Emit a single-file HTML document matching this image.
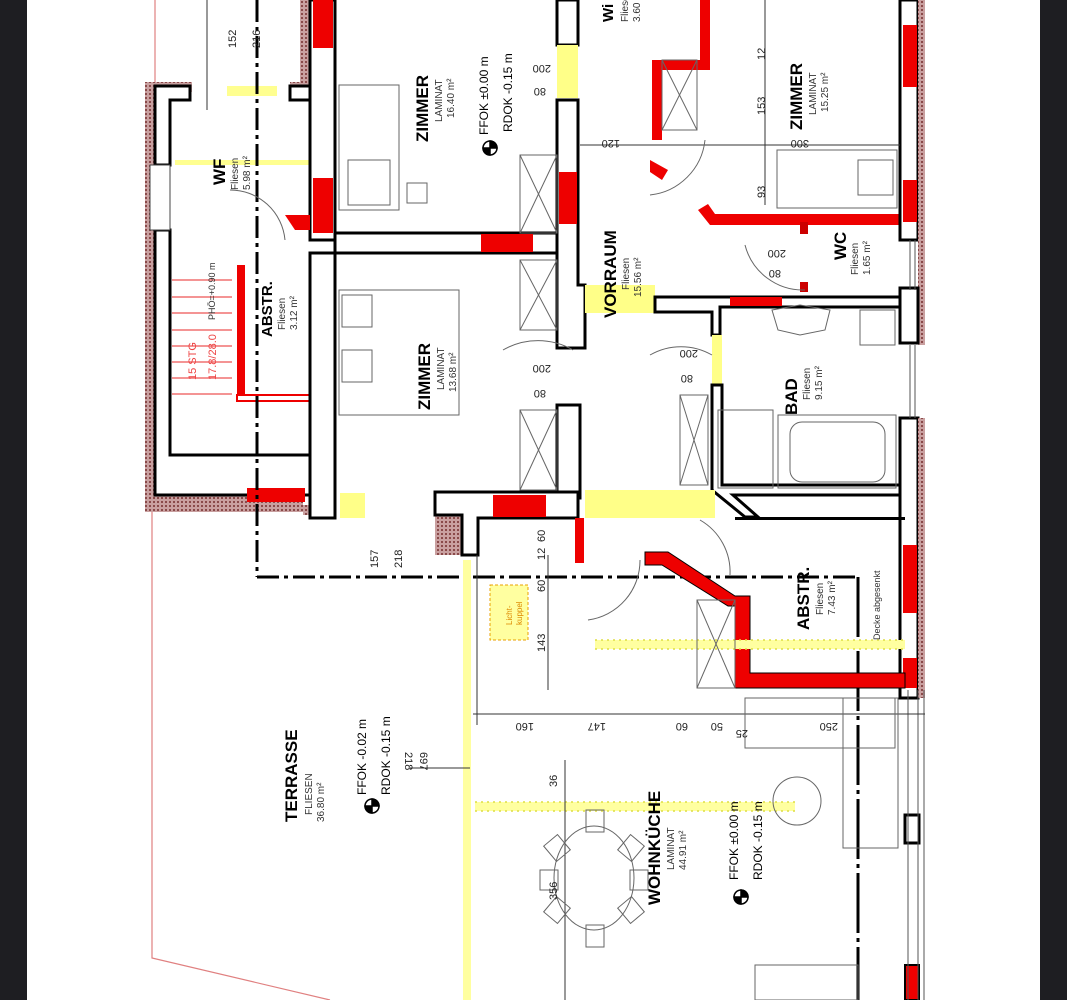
<!DOCTYPE html>
<html><head><meta charset="utf-8"><style>
html,body{margin:0;padding:0;background:#fff;}
svg{display:block;}
text{font-family:"Liberation Sans",sans-serif;}
</style></head><body>
<svg width="1067" height="1000" viewBox="0 0 1067 1000" xmlns="http://www.w3.org/2000/svg">
<defs>
<pattern id="h" width="4" height="4" patternUnits="userSpaceOnUse"><rect width="4" height="4" fill="#c9a0a0"/><rect x="1" y="1" width="2" height="2" fill="#8a4a4a"/></pattern>
</defs>
<rect x="0" y="0" width="1067" height="1000" fill="#fff"/>
<rect x="0" y="0" width="27" height="1000" fill="#1e1e22"/>
<rect x="1040" y="0" width="27" height="1000" fill="#1e1e22"/>

<polyline points="155,0 155,82" stroke="#e08080" stroke-width="1.2" fill="none"/>
<polyline points="152,512 152,958 330,1000" stroke="#e08080" stroke-width="1.2" fill="none"/>

<path d="M145,82 H192 V92 H160 V490 H303 V512 H145 Z" fill="url(#h)"/>
<path d="M290,82 H303 V92 H290 Z" fill="url(#h)"/>
<rect x="300" y="0" width="10" height="90" fill="url(#h)"/>
<rect x="303" y="505" width="32" height="10" fill="url(#h)"/>
<rect x="435" y="505" width="27" height="50" fill="url(#h)"/>
<path d="M155,86 H190 V100 H170 V165 H155 Z" fill="#fff" stroke="#000" stroke-width="3"/>
<path d="M155,230 H170 V455 H310 V495 H155 Z" fill="#fff" stroke="#000" stroke-width="3"/>
<rect x="150" y="165" width="20" height="65" fill="#fff" stroke="#444" stroke-width="1"/>
<path d="M290,86 H312 V100 H290 Z" fill="#fff" stroke="#000" stroke-width="3"/>
<rect x="247" y="488" width="58" height="14" fill="#e00"/>
<g stroke="#e55" stroke-width="1.3">
<line x1="172" y1="280" x2="232" y2="280"/><line x1="172" y1="297" x2="232" y2="297"/><line x1="172" y1="313" x2="232" y2="313"/><line x1="172" y1="330" x2="232" y2="330"/><line x1="172" y1="346" x2="232" y2="346"/><line x1="172" y1="362" x2="232" y2="362"/><line x1="172" y1="378" x2="232" y2="378"/><line x1="172" y1="394" x2="232" y2="394"/>
</g>
<rect x="237" y="265" width="8" height="130" fill="#e00"/>
<rect x="237" y="395" width="75" height="6" fill="none" stroke="#e00" stroke-width="2"/>
<text transform="translate(196,380) rotate(-90)" font-size="11" fill="#e44">15 STG</text>
<text transform="translate(216,380) rotate(-90)" font-size="11" fill="#e44">17.8/28.0</text>
<g fill="#ffff90">
<rect x="227" y="86" width="50" height="10"/><rect x="175" y="160" width="135" height="5"/>
</g>

<rect x="310" y="0" width="25" height="240" fill="#fff" stroke="#000" stroke-width="3"/>
<rect x="313" y="0" width="20" height="48" fill="#e00"/>
<rect x="313" y="178" width="20" height="55" fill="#e00"/>
<rect x="310" y="253" width="25" height="265" fill="#fff" stroke="#000" stroke-width="3"/>
<path d="M285,215 H310 V230 H295 Z" fill="#e00"/>

<line x1="257" y1="0" x2="257" y2="577" stroke="#000" stroke-width="3" stroke-dasharray="22,5,4,5"/>
<line x1="257" y1="577" x2="858" y2="577" stroke="#000" stroke-width="3" stroke-dasharray="22,5,4,5"/>
<line x1="858" y1="577" x2="858" y2="1000" stroke="#000" stroke-width="3" stroke-dasharray="60,5,4,5"/>

<rect x="335" y="233" width="223" height="20" fill="#fff" stroke="#000" stroke-width="3"/>
<rect x="481" y="234" width="52" height="18" fill="#e00"/>
<rect x="557" y="0" width="21" height="45" fill="#fff" stroke="#000" stroke-width="3"/>
<rect x="557" y="45" width="21" height="53" fill="#ff8"/>
<path d="M557,100 H578 V285 H585 V348 H557 Z" fill="#fff" stroke="#000" stroke-width="3"/>
<rect x="559" y="172" width="18" height="52" fill="#e00"/>
<rect x="585" y="285" width="70" height="28" fill="#ff8"/>
<path d="M655,297 H905 V307 H720 V335 H712 V312 H655 Z" fill="#fff" stroke="#000" stroke-width="3"/>
<rect x="730" y="297" width="52" height="9" fill="#e00"/>
<path d="M557,405 H580 V498 H557 Z" fill="#fff" stroke="#000" stroke-width="3"/>
<rect x="712" y="335" width="10" height="50" fill="#ff8"/>
<path d="M712,385 H722 V485 H905 V495 H733 L758,517 H745 L712,490 Z" fill="#fff" stroke="#000" stroke-width="3"/>
<rect x="585" y="490" width="130" height="28" fill="#ff8"/>
<path d="M435,492 H578 V518 H478 V555 H462 V515 H435 Z" fill="#fff" stroke="#000" stroke-width="3"/>
<rect x="493" y="495" width="53" height="22" fill="#e00"/>
<rect x="575" y="518" width="9" height="45" fill="#e00"/>
<rect x="340" y="493" width="25" height="25" fill="#ff8"/>

<path d="M652,60 H700 V0 H710 V70 H662 V140 H652 Z" fill="#e00"/>
<path d="M650,160 L668,170 L662,180 L650,172 Z" fill="#e00"/>
<path d="M698,210 L708,204 L715,214 H905 V225 H710 Z" fill="#e00"/>
<rect x="800" y="222" width="8" height="12" fill="#c00"/>
<rect x="800" y="282" width="8" height="10" fill="#c00"/>

<rect x="900" y="0" width="18" height="240" fill="#fff" stroke="#000" stroke-width="3"/>
<rect x="903" y="25" width="14" height="62" fill="#e00"/>
<rect x="903" y="180" width="14" height="42" fill="#e00"/>
<rect x="918" y="0" width="7" height="345" fill="url(#h)"/>
<rect x="900" y="288" width="18" height="55" fill="#fff" stroke="#000" stroke-width="3"/>
<rect x="900" y="418" width="18" height="280" fill="#fff" stroke="#000" stroke-width="3"/>
<rect x="918" y="418" width="7" height="280" fill="url(#h)"/>
<rect x="903" y="545" width="14" height="68" fill="#e00"/>
<rect x="903" y="658" width="14" height="30" fill="#e00"/>
<rect x="905" y="815" width="14" height="28" fill="#fff" stroke="#000" stroke-width="3"/>
<rect x="905" y="965" width="14" height="35" fill="#e00" stroke="#000" stroke-width="2"/>
<g stroke="#555" stroke-width="1"><line x1="910" y1="240" x2="910" y2="290"/><line x1="915" y1="240" x2="915" y2="290"/><line x1="910" y1="345" x2="910" y2="418"/><line x1="915" y1="345" x2="915" y2="418"/><line x1="908" y1="690" x2="908" y2="1000"/><line x1="918" y1="690" x2="918" y2="1000"/><line x1="924" y1="690" x2="924" y2="1000"/></g>

<path d="M645,552 H668 L735,596 H750 V673 H905 V688 H735 V606 H728 L662,565 H645 Z" fill="#e00" stroke="#000" stroke-width="1"/>
<rect x="735" y="517" width="170" height="3" fill="#000"/>

<g fill="#ffffa0"><rect x="463" y="560" width="8" height="440"/><rect x="475" y="802" width="320" height="9"/><rect x="595" y="640" width="310" height="9"/><rect x="490" y="585" width="38" height="55" stroke="#e8a000" stroke-dasharray="3,2"/></g>
<g stroke="#dd4" stroke-width="1.5" stroke-dasharray="2,4"><line x1="475" y1="802" x2="795" y2="802"/><line x1="475" y1="811" x2="795" y2="811"/><line x1="595" y1="640" x2="905" y2="640"/><line x1="595" y1="649" x2="905" y2="649"/></g>
<text transform="translate(512,625) rotate(-90)" font-size="8" fill="#d80">Licht-</text>
<text transform="translate(522,625) rotate(-90)" font-size="8" fill="#d80">kuppel</text>

<g stroke="#333" stroke-width="1" fill="none">
<line x1="473" y1="714" x2="925" y2="714"/>
<line x1="477" y1="555" x2="477" y2="725"/>
<line x1="548" y1="555" x2="548" y2="690"/>
<line x1="410" y1="768" x2="470" y2="768"/>
<line x1="565" y1="760" x2="565" y2="1000"/>
<line x1="580" y1="145" x2="900" y2="145"/>
<line x1="765" y1="0" x2="765" y2="205"/>
<line x1="207" y1="0" x2="207" y2="110"/>
</g>

<g stroke="#666" stroke-width="1" fill="none">
<rect x="339" y="85" width="60" height="125"/><rect x="348" y="160" width="42" height="45"/><rect x="407" y="183" width="20" height="20"/>
<rect x="339" y="290" width="120" height="125"/><rect x="342" y="295" width="30" height="32"/><rect x="342" y="350" width="30" height="32"/>
<rect x="520" y="155" width="37" height="78"/><line x1="520" y1="155" x2="557" y2="233"/><line x1="557" y1="155" x2="520" y2="233"/>
<rect x="520" y="260" width="37" height="70"/><line x1="520" y1="260" x2="557" y2="330"/><line x1="557" y1="260" x2="520" y2="330"/>
<rect x="520" y="410" width="37" height="80"/><line x1="520" y1="410" x2="557" y2="490"/><line x1="557" y1="410" x2="520" y2="490"/>
<rect x="662" y="60" width="35" height="70"/><line x1="662" y1="60" x2="697" y2="130"/><line x1="697" y1="60" x2="662" y2="130"/>
<rect x="680" y="395" width="28" height="90"/><line x1="680" y1="395" x2="708" y2="485"/><line x1="708" y1="395" x2="680" y2="485"/>
<rect x="697" y="600" width="38" height="88"/><line x1="697" y1="600" x2="735" y2="688"/><line x1="735" y1="600" x2="697" y2="688"/>
<rect x="777" y="150" width="120" height="58"/><rect x="858" y="160" width="35" height="35"/>
<rect x="718" y="410" width="55" height="78"/><rect x="778" y="415" width="118" height="73"/><rect x="790" y="422" width="95" height="60" rx="12"/>
<rect x="860" y="310" width="35" height="35"/>
<path d="M772,310 L800,305 L830,310 L825,330 L800,335 L778,330 Z"/>
<rect x="745" y="698" width="150" height="50"/><rect x="843" y="698" width="55" height="150"/>
<circle cx="797" cy="801" r="24"/>
<ellipse cx="594" cy="878" rx="40" ry="52"/>
<rect x="586" y="810" width="18" height="22"/><rect x="586" y="925" width="18" height="22"/>
<rect x="548" y="838" width="18" height="20" transform="rotate(-40 557 848)"/><rect x="622" y="838" width="18" height="20" transform="rotate(40 631 848)"/>
<rect x="548" y="900" width="18" height="20" transform="rotate(40 557 910)"/><rect x="622" y="900" width="18" height="20" transform="rotate(-40 631 910)"/>
<rect x="540" y="870" width="18" height="20"/><rect x="630" y="870" width="18" height="20"/>
<rect x="755" y="965" width="103" height="35"/>
<path d="M503,350 A70,70 0 0 1 573,350"/><path d="M650,355 A62,62 0 0 1 712,355"/><path d="M745,245 A60,60 0 0 0 805,290"/>
<path d="M588,620 A60,60 0 0 0 640,560"/><path d="M650,195 A62,62 0 0 0 705,140"/><path d="M230,190 A55,55 0 0 1 285,240"/>
<path d="M700,520 A60,60 0 0 1 730,575"/>
</g>

<g stroke="#000" stroke-width="1.5"><circle cx="490" cy="148" r="7" fill="#fff"/><path d="M490,141 A7,7 0 0 1 497,148 H490 Z M490,155 A7,7 0 0 1 483,148 H490 Z" fill="#000"/>
<circle cx="372" cy="806" r="7" fill="#fff"/><path d="M372,799 A7,7 0 0 1 379,806 H372 Z M372,813 A7,7 0 0 1 365,806 H372 Z" fill="#000"/>
<circle cx="741" cy="897" r="7" fill="#fff"/><path d="M741,890 A7,7 0 0 1 748,897 H741 Z M741,904 A7,7 0 0 1 734,897 H741 Z" fill="#000"/></g>

<g font-weight="bold" fill="#000">
<text transform="translate(428,142) rotate(-90)" font-size="17">ZIMMER</text>
<text transform="translate(430,410) rotate(-90)" font-size="17">ZIMMER</text>
<text transform="translate(802,130) rotate(-90)" font-size="17">ZIMMER</text>
<text transform="translate(616,318) rotate(-90)" font-size="17">VORRAUM</text>
<text transform="translate(797,415) rotate(-90)" font-size="17">BAD</text>
<text transform="translate(846,260) rotate(-90)" font-size="17">WC</text>
<text transform="translate(225,185) rotate(-90)" font-size="17">WF</text>
<text transform="translate(272,337) rotate(-90)" font-size="15">ABSTR.</text>
<text transform="translate(809,630) rotate(-90)" font-size="17">ABSTR.</text>
<text transform="translate(297,822) rotate(-90)" font-size="17">TERRASSE</text>
<text transform="translate(660,905) rotate(-90)" font-size="17">WOHNKÜCHE</text>
<text transform="translate(613,22) rotate(-90)" font-size="15">Wi</text>
</g>
<g fill="#333" font-size="10">
<text transform="translate(442,122) rotate(-90)">LAMINAT</text><text transform="translate(454,118) rotate(-90)">16.40 m²</text>
<text transform="translate(444,390) rotate(-90)">LAMINAT</text><text transform="translate(456,392) rotate(-90)">13.68 m²</text>
<text transform="translate(816,115) rotate(-90)">LAMINAT</text><text transform="translate(828,112) rotate(-90)">15.25 m²</text>
<text transform="translate(629,290) rotate(-90)">Fliesen</text><text transform="translate(641,297) rotate(-90)">15.56 m²</text>
<text transform="translate(810,400) rotate(-90)">Fliesen</text><text transform="translate(822,400) rotate(-90)">9.15 m²</text>
<text transform="translate(858,275) rotate(-90)">Fliesen</text><text transform="translate(870,275) rotate(-90)">1.65 m²</text>
<text transform="translate(238,190) rotate(-90)">Fliesen</text><text transform="translate(250,190) rotate(-90)">5.98 m²</text>
<text transform="translate(285,330) rotate(-90)">Fliesen</text><text transform="translate(297,330) rotate(-90)">3.12 m²</text>
<text transform="translate(823,615) rotate(-90)">Fliesen</text><text transform="translate(835,615) rotate(-90)">7.43 m²</text>
<text transform="translate(312,815) rotate(-90)">FLIESEN</text><text transform="translate(324,822) rotate(-90)">36.80 m²</text>
<text transform="translate(674,870) rotate(-90)">LAMINAT</text><text transform="translate(686,870) rotate(-90)">44.91 m²</text>
<text transform="translate(628,22) rotate(-90)">Fliesen</text><text transform="translate(640,22) rotate(-90)">3.60</text>
<text transform="translate(880,640) rotate(-90)" font-size="9">Decke abgesenkt</text>
<text transform="translate(215,320) rotate(-90)" font-size="9">PHÖ=+0.90 m</text>
</g>
<g fill="#000" font-size="12">
<text transform="translate(488,135) rotate(-90)">FFOK ±0.00 m</text><text transform="translate(512,132) rotate(-90)">RDOK -0.15 m</text>
<text transform="translate(366,795) rotate(-90)">FFOK -0.02 m</text><text transform="translate(390,795) rotate(-90)">RDOK -0.15 m</text>
<text transform="translate(738,880) rotate(-90)">FFOK ±0.00 m</text><text transform="translate(762,880) rotate(-90)">RDOK -0.15 m</text>
</g>
<g fill="#222" font-size="11">
<text transform="translate(236,48) rotate(-90)">152</text><text transform="translate(260,48) rotate(-90)">216</text>
<text transform="translate(378,568) rotate(-90)">157</text><text transform="translate(402,568) rotate(-90)">218</text>
<text transform="translate(545,560) rotate(-90)">12</text><text transform="translate(545,542) rotate(-90)">60</text><text transform="translate(545,592) rotate(-90)">60</text>
<text transform="translate(545,652) rotate(-90)">143</text>
<text transform="translate(557,787) rotate(-90)">36</text><text transform="translate(557,900) rotate(-90)">356</text>
<text transform="translate(765,115) rotate(-90)">153</text><text transform="translate(765,198) rotate(-90)">93</text><text transform="translate(765,60) rotate(-90)">12</text>
<text transform="rotate(180 610 140)" x="600" y="140">120</text>
<text transform="rotate(180 798 140)" x="787" y="140">300</text>
<text transform="rotate(180 773 250)" x="760" y="250">200</text><text transform="rotate(180 773 270)" x="765" y="270">80</text>
<text transform="rotate(180 538 365)" x="525" y="365">200</text><text transform="rotate(180 538 390)" x="530" y="390">80</text>
<text transform="rotate(180 538 65)" x="525" y="65">200</text><text transform="rotate(180 538 88)" x="530" y="88">80</text>
<text transform="rotate(180 685 350)" x="672" y="350">200</text><text transform="rotate(180 685 375)" x="677" y="375">80</text>
<text transform="rotate(180 523 723)" x="512" y="723">160</text><text transform="rotate(180 595 723)" x="584" y="723">147</text>
<text transform="rotate(180 680 723)" x="672" y="723">60</text><text transform="rotate(180 715 723)" x="707" y="723">50</text>
<text transform="rotate(180 742 730)" x="736" y="730">25</text><text transform="rotate(180 828 723)" x="818" y="723">250</text>
<text transform="translate(405,752) rotate(90)">218</text><text transform="translate(420,752) rotate(90)">697</text>
</g>
</svg>
</body></html>
